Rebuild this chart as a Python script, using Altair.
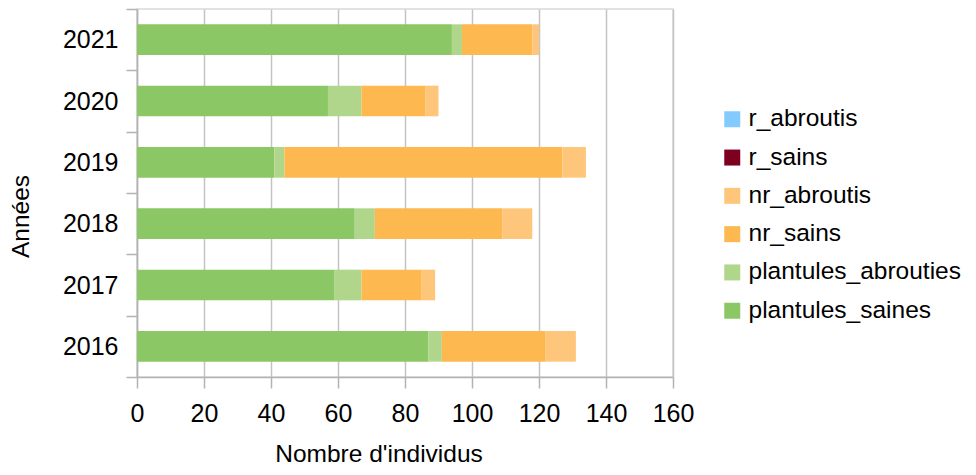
import altair as alt
import pandas as pd

years = ["2016", "2017", "2018", "2019", "2020", "2021"]

plantules_saines = [87, 59, 65, 41, 57, 94]
plantules_abrouties = [4, 8, 6, 3, 10, 3]
nr_sains = [31, 18, 38, 83, 19, 21]
nr_abroutis = [9, 4, 9, 7, 4, 2]
r_sains = [0, 0, 0, 0, 0, 0]
r_abroutis = [0, 0, 0, 0, 0, 0]

# legend order (top to bottom)
series_names = ["r_abroutis", "r_sains", "nr_abroutis", "nr_sains",
                "plantules_abrouties", "plantules_saines"]
series_colors = ["#83caff", "#7e0021", "#fdc67a", "#fdb94f", "#b0d68c", "#8bc764"]
# stacking order (left to right)
stack_order = ["plantules_saines", "plantules_abrouties", "nr_sains",
               "nr_abroutis", "r_sains", "r_abroutis"]

x_ticks = [0, 20, 40, 60, 80, 100, 120, 140, 160]

series_values = {
    "plantules_saines": plantules_saines,
    "plantules_abrouties": plantules_abrouties,
    "nr_sains": nr_sains,
    "nr_abroutis": nr_abroutis,
    "r_sains": r_sains,
    "r_abroutis": r_abroutis,
}

rows = []
for name, vals in series_values.items():
    for yr, v in zip(years, vals):
        rows.append({"annee": yr, "serie": name, "n": v,
                     "ordre": stack_order.index(name)})
df = pd.DataFrame(rows)

FONT = "Liberation Sans"
AXIS_COLOR = "#b3b3b3"

chart = alt.Chart(df).mark_bar(height={"band": 0.5}).encode(
    y=alt.Y(
        "annee:N",
        sort="descending",
        scale=alt.Scale(paddingInner=0, paddingOuter=0),
        axis=alt.Axis(
            title="Années",
            tickBand="extent",
            labelFontSize=25,
            labelPadding=8,
            titleFontSize=24.5,
            titleFontWeight="normal",
            titleAngle=270,
            titleX=-109,
            titleY=207,
            titleAlign="center",
            titleBaseline="alphabetic",
            grid=False,
        ),
    ),
    x=alt.X(
        "n:Q",
        stack="zero",
        scale=alt.Scale(domain=[0, 160], nice=False),
        axis=alt.Axis(
            title="Nombre d'individus",
            values=x_ticks,
            grid=True,
            labelFlush=False,
            labelOverlap=False,
            labelFontSize=25,
            labelPadding=13,
            titleFontSize=24.5,
            titleFontWeight="normal",
            titleX=241.5,
            titleY=84,
            titleAlign="center",
            titleBaseline="alphabetic",
        ),
    ),
    color=alt.Color(
        "serie:N",
        scale=alt.Scale(domain=series_names, range=series_colors),
        legend=alt.Legend(
            title=None,
            orient="none",
            legendX=583,
            legendY=98,
            symbolType="square",
            symbolSize=256,
            symbolStrokeWidth=0,
            labelFontSize=24.5,
            labelFont=FONT,
            labelColor="#000000",
            labelOffset=4,
            labelLimit=0,
            rowPadding=13.3,
            padding=0,
        ),
    ),
    order=alt.Order("ordre:Q"),
).properties(
    width=536,
    height=368,
    autosize=alt.AutoSizeParams(type="none"),
    padding={"left": 129, "top": 1, "right": 295, "bottom": 90},
).configure_axis(
    labelFont=FONT,
    titleFont=FONT,
    labelColor="#000000",
    titleColor="#000000",
    domainColor=AXIS_COLOR,
    domainWidth=1.5,
    tickColor=AXIS_COLOR,
    tickWidth=1.5,
    tickSize=11,
    gridColor="#c4c4c4",
    gridWidth=1.5,
).configure_view(
    stroke="#d9d9d9",
    strokeWidth=1.5,
)

chart.save("out.html", embed_options={"renderer": "svg", "actions": False})
